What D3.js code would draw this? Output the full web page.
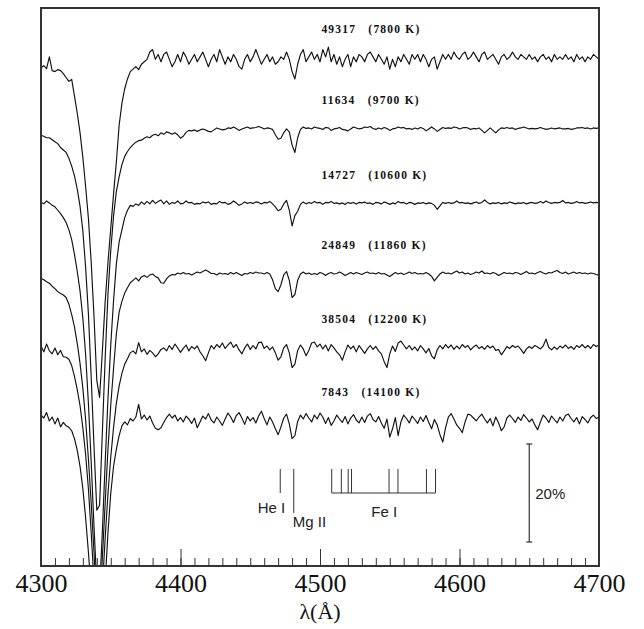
<!DOCTYPE html>
<html><head><meta charset="utf-8">
<script src="https://cdn.jsdelivr.net/npm/d3@7"></script>
<style>body{margin:0;background:#fff}</style>
</head><body><svg id="c" width="644" height="629"></svg>
<script>
// ---- data ----
const wlStart = 4300, wlStep = 2;          // spectra sampled every 2 Å from 4300 Å
const starIds = ["49317", "11634", "14727", "24849", "38504", "7843"];
const temps = ["7800 K", "9700 K", "10600 K", "11860 K", "12200 K", "14100 K"];
const offsets = [0.039, -0.106, -0.259, -0.402, -0.553, -0.702]; // vertical shifts (flux units)

const flux49317 = [
97.8,98.2,97.6,100.0,97.2,97.0,97.4,97.2,96.6,95.8,
95.0,95.4,92.0,88.5,84.5,79.5,73.5,67.0,58.0,47.0,
34.0,30.5,40.0,50.0,58.0,65.0,72.0,78.5,86.0,90.5,
93.5,95.5,97.0,97.5,98.0,97.4,98.5,99.0,99.5,101.0,
101.5,99.5,100.5,99.0,100.5,101.0,
99.5,98.0,99.0,100.5,99.0,101.0,100.0,98.5,99.5,100.5,
99.0,100.0,101.0,99.5,98.0,99.5,100.5,99.0,101.5,100.0,
98.5,100.0,99.0,100.5,99.5,98.0,97.5,99.5,100.5,99.0,
100.0,101.5,100.0,98.5,99.5,100.5,99.0,100.0,98.5,99.0,
100.0,99.5,101.0,99.5,97.0,95.5,98.5,100.5,101.5,99.0,
100.0,101.0,99.5,100.5,99.0,101.5,100.0,102.0,99.0,100.5,
98.5,100.0,98.0,99.5,100.5,98.0,100.0,99.0,100.5,100.0,
99.0,100.5,101.0,100.0,99.0,100.5,99.5,98.5,100.0,97.5,
99.5,98.0,100.0,99.0,100.5,99.5,98.5,100.5,99.5,100.5,
99.0,100.5,99.5,98.0,99.5,100.0,97.5,99.0,100.5,99.5,
100.5,99.5,101.0,100.0,99.5,100.5,101.0,99.5,100.0,101.0,
100.0,99.0,100.5,101.0,99.5,100.0,100.5,99.5,98.5,100.0,
100.5,99.5,100.0,101.0,100.0,99.5,100.5,100.0,99.5,100.5,
99.5,100.0,99.0,100.0,100.5,99.5,100.0,99.0,100.5,99.5,
100.0,99.5,100.5,99.5,100.0,99.0,100.5,99.5,100.0,99.0,
100.0,99.5,100.5,100.0,99.5];

const flux11634 = [
98.5,98.3,98.0,98.0,97.6,97.2,96.8,96.0,95.5,95.0,
93.8,92.2,90.2,87.5,84.0,79.0,71.5,62.0,49.0,35.0,
22.0,23.0,38.0,53.0,66.0,75.0,82.0,87.0,90.0,92.5,
94.2,95.2,96.0,96.6,97.1,97.4,97.5,97.9,98.2,98.0,
98.5,98.7,98.4,99.0,98.7,99.2,
99.0,98.7,99.0,98.6,97.9,98.3,99.1,99.5,99.4,99.6,
99.3,99.6,99.8,99.6,99.3,99.2,99.6,100.0,99.8,99.6,
99.7,100.0,99.9,100.2,99.9,99.5,99.8,100.0,100.2,99.9,
100.0,100.1,100.3,100.1,99.8,100.0,99.9,99.7,98.6,97.7,
97.9,99.0,99.8,99.2,96.5,95.0,98.0,99.7,100.2,99.9,
100.0,99.8,100.2,100.0,99.9,99.7,100.1,100.0,99.5,99.8,
99.9,100.1,99.7,99.6,99.4,99.8,100.2,100.0,99.8,99.9,
100.2,100.1,100.3,99.9,99.7,100.0,99.8,100.1,99.9,99.5,
99.8,99.9,100.2,100.0,100.1,99.8,99.9,99.7,100.0,99.8,
100.1,99.9,99.4,99.8,100.2,99.8,99.3,99.7,100.1,99.9,
100.0,99.9,100.2,100.1,99.8,100.0,100.1,100.0,99.7,99.9,
99.8,100.0,99.5,99.0,99.5,100.0,99.5,99.0,99.6,100.0,
99.9,100.1,99.9,100.0,99.7,99.9,100.0,100.2,100.0,99.8,
99.9,99.8,99.9,100.1,99.9,99.7,99.8,100.0,99.8,99.9,
100.0,99.8,99.8,99.9,99.7,99.8,100.0,100.0,100.1,99.9,
100.0,99.8,100.0,99.9,100.0];

const flux14727 = [
100.2,99.8,100.4,100.0,99.5,99.2,98.5,97.8,97.0,96.0,
94.5,92.5,89.5,86.0,82.0,76.5,69.0,59.0,47.0,34.0,
22.0,21.0,33.0,47.0,60.0,71.0,80.0,87.5,92.0,94.5,
97.0,98.5,99.5,99.3,99.8,99.5,100.2,99.7,100.3,99.8,
100.5,99.9,100.3,100.6,99.8,100.4,
99.7,100.1,99.9,100.4,99.8,99.9,100.4,100.0,100.1,99.7,
99.9,99.8,100.2,100.0,100.2,99.7,99.9,99.8,100.3,100.0,
100.1,99.7,99.9,100.4,100.0,99.5,99.8,100.2,99.9,100.1,
99.9,100.2,100.1,99.8,100.1,100.0,100.3,99.8,99.2,98.4,
98.7,99.8,100.5,98.5,95.3,97.4,98.3,99.7,100.2,99.8,
100.1,99.9,100.3,100.0,100.1,99.7,100.1,100.0,100.3,99.9,
100.0,99.8,100.0,99.7,100.1,99.9,100.1,99.8,100.1,100.0,
100.2,99.9,100.0,99.7,100.1,100.0,99.8,100.2,100.0,99.7,
100.0,99.8,100.3,100.0,100.1,99.8,100.1,100.0,99.7,100.0,
99.9,100.1,99.8,100.0,99.9,99.5,98.7,99.4,100.1,99.9,
100.1,99.9,100.0,100.4,100.0,100.1,99.9,100.0,99.8,100.0,
100.2,99.9,100.1,100.6,100.1,99.8,100.0,99.9,100.1,99.8,
100.0,99.9,100.2,100.0,99.8,100.0,99.9,100.1,99.8,100.0,
100.1,99.9,100.0,100.3,100.0,100.4,100.1,99.9,100.1,100.0,
100.1,100.5,100.0,100.1,99.9,100.0,100.3,100.0,100.1,99.9,
100.0,100.2,100.0,100.1,100.0];

const flux24849 = [
98.9,98.6,98.2,97.9,97.3,96.8,96.2,95.8,95.5,95.0,
93.6,91.5,89.0,85.6,81.5,76.5,70.0,62.0,53.0,43.0,
32.0,31.0,42.0,53.0,64.0,73.0,80.5,87.5,92.0,94.2,
95.9,97.0,98.0,98.5,99.0,98.4,99.2,99.5,99.1,99.6,
99.8,99.3,99.0,98.0,97.9,98.8,
99.4,99.7,99.6,100.0,99.8,100.1,99.8,99.9,99.6,99.9,
100.2,100.0,100.3,100.6,100.3,99.9,99.9,99.6,100.0,99.8,
99.9,99.7,100.1,99.8,100.1,99.8,99.5,99.9,99.8,100.1,
99.9,100.2,100.0,100.0,99.8,100.1,99.8,98.6,96.8,96.2,
97.6,99.6,100.3,98.5,95.0,95.6,98.5,99.8,100.2,99.8,
100.0,99.7,99.9,99.7,100.1,99.9,99.5,99.9,100.1,99.8,
99.9,100.2,99.9,99.5,99.8,100.1,99.8,100.1,99.9,99.7,
100.0,100.2,99.9,100.0,99.8,100.1,99.8,99.9,99.6,99.3,
99.7,100.1,99.8,100.0,99.7,99.9,100.2,99.9,100.1,99.8,
99.9,99.8,100.1,99.8,99.3,98.4,99.1,99.8,100.2,99.9,
100.0,99.8,100.1,100.4,100.0,100.2,99.8,100.0,99.7,99.9,
100.2,100.0,100.4,99.9,100.0,99.8,100.1,99.9,99.5,99.8,
100.1,99.9,100.0,99.8,100.1,100.0,99.7,100.0,100.3,99.9,
100.0,99.8,100.1,100.3,100.0,99.8,100.1,100.0,100.3,100.5,
100.1,99.9,100.2,99.8,100.0,100.2,99.9,100.1,99.9,100.0,
99.8,100.0,99.9,99.7,99.5];

const flux38504 = [
100.2,99.0,100.6,99.2,98.6,99.8,98.4,99.3,98.0,97.9,
97.5,96.2,94.0,91.3,88.0,83.5,78.0,71.0,62.0,52.0,
42.0,41.0,51.0,61.0,70.0,77.5,83.5,88.5,92.0,94.6,
96.5,97.6,98.8,99.2,98.6,100.9,99.0,99.6,98.5,99.3,
98.8,98.0,98.6,99.5,99.8,99.2,
100.3,99.5,100.6,99.8,98.9,99.7,100.4,99.2,100.1,99.6,
100.2,99.0,98.2,97.2,98.8,100.3,99.6,100.5,99.9,100.8,
99.7,100.4,101.0,99.9,100.5,99.4,98.6,99.8,100.6,99.5,
100.3,99.6,100.9,101.0,99.7,100.2,99.4,100.0,98.8,97.3,
98.0,99.8,100.5,98.8,95.8,96.5,99.3,100.4,99.6,98.2,
99.3,100.8,101.0,100.0,100.6,99.6,100.4,99.2,100.5,99.8,
99.0,98.4,97.3,99.0,100.4,99.6,100.2,99.0,100.3,99.5,
98.7,99.6,100.3,99.5,100.1,99.2,98.6,97.0,95.8,98.6,
100.2,99.1,100.8,101.2,100.4,99.6,100.3,99.4,100.0,99.2,
100.3,99.6,98.8,99.7,98.2,97.6,99.4,100.3,99.6,100.5,
99.8,100.4,99.5,100.2,99.6,100.5,99.9,100.3,99.4,100.0,
100.4,99.7,100.1,99.5,100.3,99.8,100.2,99.3,99.5,98.4,
99.2,100.1,99.7,100.3,99.9,100.2,99.5,98.7,99.6,100.1,
99.7,100.3,100.0,99.6,100.2,101.6,99.9,99.4,100.0,99.5,
100.2,99.8,100.4,99.7,100.1,99.5,100.3,99.9,100.5,99.8,
100.3,99.7,100.5,100.1,100.4];

const flux7843 = [
101.0,100.4,101.5,99.8,100.6,99.2,100.4,98.6,99.5,98.8,
98.5,97.8,96.2,93.8,90.5,86.0,80.0,73.0,65.0,56.0,
49.0,48.0,57.0,67.0,77.0,85.0,90.5,94.0,96.8,98.8,
99.6,99.0,100.3,99.8,100.6,103.2,100.2,101.0,100.0,100.8,
99.4,98.3,98.0,98.4,99.5,100.5,
101.2,100.4,101.0,99.8,100.5,99.6,100.8,100.2,99.3,100.4,
98.4,99.6,100.8,100.2,101.3,100.0,99.4,100.6,99.8,98.9,
100.2,101.4,100.6,99.5,100.9,101.5,100.4,99.1,100.7,99.8,
100.5,99.4,100.8,101.8,100.3,99.0,100.6,99.6,98.2,97.0,
98.6,100.4,101.2,99.2,96.2,96.8,99.7,101.0,100.2,101.3,
100.4,99.6,101.0,100.2,101.4,100.6,99.3,100.5,98.9,99.8,
101.0,100.2,99.5,100.7,99.2,100.4,101.1,100.0,99.4,100.6,
99.5,100.8,101.3,100.1,99.6,100.7,99.4,98.3,100.2,96.5,
98.2,100.5,96.8,99.6,101.0,100.3,99.4,100.8,100.1,99.3,
100.6,99.7,100.9,99.5,98.2,100.1,99.0,97.0,95.5,98.4,
100.6,101.3,100.2,99.0,98.3,97.4,99.6,101.2,101.0,100.4,
99.8,100.6,101.2,100.2,99.4,100.3,98.8,100.6,99.4,97.8,
98.6,100.4,101.0,100.3,99.5,100.6,99.9,101.1,100.4,99.6,
100.2,99.0,98.0,99.6,101.0,100.4,99.5,100.8,100.1,99.4,
100.6,99.8,100.9,101.2,100.3,99.6,100.5,99.2,100.7,100.1,
99.4,100.5,101.0,100.3,100.6];

const spectra = [flux49317, flux11634, flux14727, flux24849, flux38504, flux7843];

const majorTicks = [4300, 4400, 4500, 4600, 4700];
const heLine = 4471.5, mgLine = 4481.2;
const feLines = [4508.4, 4515.3, 4520.2, 4522.6, 4549.5, 4555.9, 4576.3, 4582.8];
const scaleBarWl = 4650, scaleBarBase = 0.049, scaleBarSize = 0.20;

// ---- layout ----
const L = 41, R = 599, T = 8, B = 566;
const svg = d3.select("#c");
const x = d3.scaleLinear().domain([4300, 4700]).range([L, R]);
const y = d3.scaleLinear().domain([0, (B - T) / 490]).range([B, T]);

svg.append("defs").append("clipPath").attr("id", "clip")
  .append("rect").attr("x", L).attr("y", T).attr("width", R - L).attr("height", B - T);

const line = (off) => d3.line()
  .x((d, i) => x(wlStart + i * wlStep))
  .y(d => y(d / 100 + off));

const g = svg.append("g").attr("clip-path", "url(#clip)");
spectra.forEach((s, k) => {
  g.append("path").attr("d", line(offsets[k])(s))
    .attr("fill", "none").attr("stroke", "#111").attr("stroke-width", 1.15)
    .attr("stroke-linejoin", "round");
});

// labels
spectra.forEach((s, k) => {
  svg.append("text")
    .attr("x", x(4501)).attr("y", y(1 + offsets[k]) - 24)
    .attr("font-family", "'Liberation Serif', serif").attr("font-weight", "bold")
    .attr("font-size", 11.5).attr("letter-spacing", 1.2).attr("fill", "#111")
    .style("white-space", "pre")
    .text(starIds[k] + "   (" + temps[k] + ")");
});

// axes ticks
const minorAxis = d3.axisBottom(x).tickValues(d3.range(4300, 4701, 10))
  .tickSize(-8).tickFormat("");
const majorAxis = d3.axisBottom(x).tickValues(majorTicks)
  .tickSize(-17).tickFormat(d3.format("d"));
const ga = svg.append("g").attr("transform", `translate(0,${B})`).call(minorAxis);
ga.select(".domain").remove();
ga.selectAll("line").attr("stroke", "#333").attr("stroke-width", 1);
const gm = svg.append("g").attr("transform", `translate(0,${B})`).call(majorAxis);
gm.select(".domain").remove();
gm.selectAll("line").attr("stroke", "#333").attr("stroke-width", 1);
gm.selectAll("text").attr("y", 26).attr("dy", 0)
  .attr("font-family", "'Liberation Serif', serif").attr("font-size", 26).attr("fill", "#111");

// frame
svg.append("rect").attr("x", L).attr("y", T).attr("width", R - L).attr("height", B - T)
  .attr("fill", "none").attr("stroke", "#333").attr("stroke-width", 2);

svg.append("text").attr("x", x(4500)).attr("y", 619).attr("text-anchor", "middle")
  .attr("font-family", "'Liberation Serif', serif").attr("font-size", 22).attr("fill", "#111")
  .text("λ(Å)");

// line identifications
const mk = svg.append("g").attr("stroke", "#333").attr("stroke-width", 1);
const topV = 0.198, shortV = 0.149, longV = 0.108;
mk.append("line").attr("x1", x(heLine)).attr("x2", x(heLine)).attr("y1", y(topV)).attr("y2", y(shortV));
mk.append("line").attr("x1", x(mgLine)).attr("x2", x(mgLine)).attr("y1", y(topV)).attr("y2", y(longV));
feLines.forEach(w => mk.append("line").attr("x1", x(w)).attr("x2", x(w)).attr("y1", y(topV)).attr("y2", y(shortV)));
mk.append("line").attr("x1", x(feLines[0])).attr("x2", x(feLines[feLines.length - 1]))
  .attr("y1", y(shortV)).attr("y2", y(shortV));

const lab = (t, xx, yy, anchor) => svg.append("text").attr("x", xx).attr("y", yy)
  .attr("text-anchor", anchor).attr("font-family", "'Liberation Sans', Arial, sans-serif")
  .attr("font-size", 15).attr("fill", "#222").text(t);
lab("He I", x(heLine) + 5, 513, "end");
lab("Mg II", x(mgLine) - 1, 527, "start");
lab("Fe I", x(4546), 517, "middle");

// 20% scale bar
const sb = svg.append("g").attr("stroke", "#333").attr("stroke-width", 1.2);
const sx = x(scaleBarWl);
sb.append("line").attr("x1", sx).attr("x2", sx).attr("y1", y(scaleBarBase)).attr("y2", y(scaleBarBase + scaleBarSize));
[scaleBarBase, scaleBarBase + scaleBarSize].forEach(v =>
  sb.append("line").attr("x1", sx - 3).attr("x2", sx + 3).attr("y1", y(v)).attr("y2", y(v)));
lab("20%", sx + 6, 499, "start");
</script></body></html>
